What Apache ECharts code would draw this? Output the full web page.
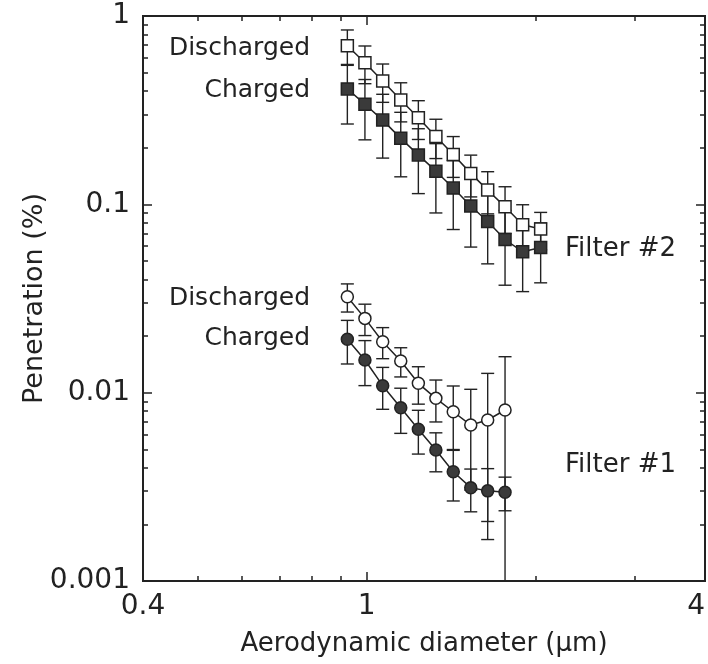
<!DOCTYPE html>
<html><head><meta charset="utf-8">
<script src="https://cdn.jsdelivr.net/npm/echarts@6/dist/echarts.min.js"></script>
<style>html,body{margin:0;padding:0;background:#fff}#c{width:708px;height:664px}</style>
</head><body><div id="c"></div>
<script>
// Aerodynamic diameter (µm) of each size channel
const diameter = [0.924, 0.993, 1.068, 1.150, 1.236, 1.328, 1.426, 1.532, 1.642, 1.763, 1.895, 2.040];

// Filter #2 (squares), penetration (%) and standard deviation
const f2Discharged   = [0.695, 0.565, 0.452, 0.358, 0.288, 0.229, 0.184, 0.146, 0.119, 0.097, 0.078, 0.074];
const f2DischargedSd = [0.148, 0.128, 0.104, 0.084, 0.067, 0.054, 0.045, 0.0365, 0.030, 0.027, 0.0215, 0.0166];
const f2Charged      = [0.410, 0.340, 0.280, 0.224, 0.183, 0.150, 0.122, 0.098, 0.081, 0.065, 0.056, 0.059];
const f2ChargedSd    = [0.143, 0.120, 0.104, 0.084, 0.069, 0.060, 0.0485, 0.0387, 0.0327, 0.0278, 0.0216, 0.0207];

// Filter #1 (circles), first 10 channels
const f1Discharged   = [0.0323, 0.0248, 0.01865, 0.01472, 0.01121, 0.00933, 0.00792, 0.00673, 0.00716, 0.00809];
const f1DischargedSd = [0.0055, 0.0047, 0.0035, 0.0026, 0.00252, 0.00234, 0.00293, 0.00369, 0.0055, 0.00743];
const f1Charged      = [0.0192, 0.0149, 0.01089, 0.00832, 0.00639, 0.00496, 0.0038, 0.00313, 0.00301, 0.00296];
const f1ChargedSd    = [0.005, 0.004, 0.00273, 0.00224, 0.00167, 0.00116, 0.00114, 0.0008, 0.00094, 0.0006];

// Axis ticks / labels
const xLabelValues = [0.4, 1, 4];
const xMajorTicks  = [1];
const xMinorTicks  = [0.5, 0.6, 0.7, 0.8, 0.9, 2, 3];
const yLabelValues = [0.001, 0.01, 0.1, 1];
const yMajorTicks  = [0.001, 0.01, 0.1, 1];
const yMinorTicks  = [0.002,0.003,0.004,0.005,0.006,0.007,0.008,0.009,
                      0.02,0.03,0.04,0.05,0.06,0.07,0.08,0.09,
                      0.2,0.3,0.4,0.5,0.6,0.7,0.8,0.9];

const X_MIN = 0.4, X_MAX = 4, Y_MIN = 0.001, Y_MAX = 1;
const FONT = '"DejaVu Sans", sans-serif';
const INK = '#222';

function pairs(xs, ys) { return ys.map((v, i) => [xs[i], v]); }
function errData(xs, ys, sds) { return ys.map((v, i) => [xs[i], v - sds[i], v + sds[i]]); }

function errRender(params, api) {
  const x = api.value(0), lo = api.value(1), hi = api.value(2);
  const clipped = !(lo > Y_MIN);
  const pHi = api.coord([x, hi]);
  const pLo = api.coord([x, clipped ? Y_MIN : lo]);
  const w = 6.5;
  const st = { stroke: INK, lineWidth: 1.4 };
  const ch = [
    { type: 'line', shape: { x1: pHi[0], y1: pHi[1], x2: pLo[0], y2: pLo[1] }, style: st },
    { type: 'line', shape: { x1: pHi[0] - w, y1: pHi[1], x2: pHi[0] + w, y2: pHi[1] }, style: st }
  ];
  if (!clipped) ch.push({ type: 'line', shape: { x1: pLo[0] - w, y1: pLo[1], x2: pLo[0] + w, y2: pLo[1] }, style: st });
  return { type: 'group', children: ch };
}

function errSeries(data) {
  return { type: 'custom', xAxisIndex: 0, yAxisIndex: 0, renderItem: errRender, data: data,
           encode: { x: 0, y: [1, 2] }, z: 1, silent: true };
}
function lineSeries(data, symbol, filled) {
  return { type: 'line', xAxisIndex: 0, yAxisIndex: 0, data: data, symbol: symbol, symbolSize: 12,
           showSymbol: true, z: 3,
           lineStyle: { color: INK, width: 1.5 },
           itemStyle: { color: filled ? '#3a3a3a' : '#fff', borderColor: INK, borderWidth: 1.5, opacity: 1 } };
}

function xAx(pos, ticks, len, extra) {
  return Object.assign({ type: 'log', logBase: 10, min: X_MIN, max: X_MAX, position: pos,
    axisLine: { show: false }, splitLine: { show: false },
    axisTick: { show: true, inside: true, length: len, customValues: ticks, lineStyle: { color: INK, width: 1.5 } },
    axisLabel: { show: false } }, extra || {});
}
function yAx(pos, ticks, len, extra) {
  return Object.assign({ type: 'log', logBase: 10, min: Y_MIN, max: Y_MAX, position: pos,
    axisLine: { show: false }, splitLine: { show: false },
    axisTick: { show: true, inside: true, length: len, customValues: ticks, lineStyle: { color: INK, width: 1.5 } },
    axisLabel: { show: false } }, extra || {});
}

const chart = echarts.init(document.getElementById('c'), null, { renderer: 'canvas' });
chart.setOption({
  animation: false,
  backgroundColor: '#fff',
  grid: { left: 143, top: 16, width: 562, height: 565, show: true, borderColor: INK, borderWidth: 2,
          backgroundColor: 'transparent', containLabel: false, outerBoundsMode: 'none' },
  xAxis: [
    xAx('bottom', xMajorTicks, 9, {
      name: 'Aerodynamic diameter (\u03bcm)', nameLocation: 'middle', nameGap: 50, nameMoveOverlap: false,
      nameTextStyle: { fontFamily: FONT, fontSize: 26, color: INK },
      axisLabel: { show: true, customValues: xLabelValues, margin: 12, fontFamily: FONT, fontSize: 28, color: INK,
                   alignMaxLabel: 'right',
                   formatter: v => String(+v.toPrecision(3)) } }),
    xAx('bottom', xMinorTicks, 5),
    xAx('top', xMajorTicks, 9),
    xAx('top', xMinorTicks, 5)
  ],
  yAxis: [
    yAx('left', yMajorTicks, 9, {
      name: 'Penetration (%)', nameLocation: 'middle', nameGap: 95, nameMoveOverlap: false,
      nameTextStyle: { fontFamily: FONT, fontSize: 27, color: INK },
      axisLabel: { show: true, customValues: yLabelValues, margin: 13, fontFamily: FONT, fontSize: 28, color: INK,
                   formatter: v => String(+v.toPrecision(3)) } }),
    yAx('left', yMinorTicks, 5),
    yAx('right', yMajorTicks, 9),
    yAx('right', yMinorTicks, 5)
  ],
  series: [
    errSeries(errData(diameter, f2Discharged, f2DischargedSd)),
    errSeries(errData(diameter, f2Charged, f2ChargedSd)),
    errSeries(errData(diameter, f1Discharged, f1DischargedSd)),
    errSeries(errData(diameter, f1Charged, f1ChargedSd)),
    lineSeries(pairs(diameter, f2Discharged), 'rect', false),
    lineSeries(pairs(diameter, f2Charged), 'rect', true),
    lineSeries(pairs(diameter, f1Discharged), 'circle', false),
    lineSeries(pairs(diameter, f1Charged), 'circle', true)
  ],
  graphic: [
    { type: 'text', x: 310, y: 48, style: { text: 'Discharged', font: '25px ' + FONT, fill: INK, align: 'right', verticalAlign: 'middle' } },
    { type: 'text', x: 310, y: 90, style: { text: 'Charged', font: '25px ' + FONT, fill: INK, align: 'right', verticalAlign: 'middle' } },
    { type: 'text', x: 310, y: 298, style: { text: 'Discharged', font: '25px ' + FONT, fill: INK, align: 'right', verticalAlign: 'middle' } },
    { type: 'text', x: 310, y: 338, style: { text: 'Charged', font: '25px ' + FONT, fill: INK, align: 'right', verticalAlign: 'middle' } },
    { type: 'text', x: 565, y: 249, style: { text: 'Filter #2', font: '26px ' + FONT, fill: INK, align: 'left', verticalAlign: 'middle' } },
    { type: 'text', x: 565, y: 465, style: { text: 'Filter #1', font: '26px ' + FONT, fill: INK, align: 'left', verticalAlign: 'middle' } }
  ]
});
</script></body></html>
